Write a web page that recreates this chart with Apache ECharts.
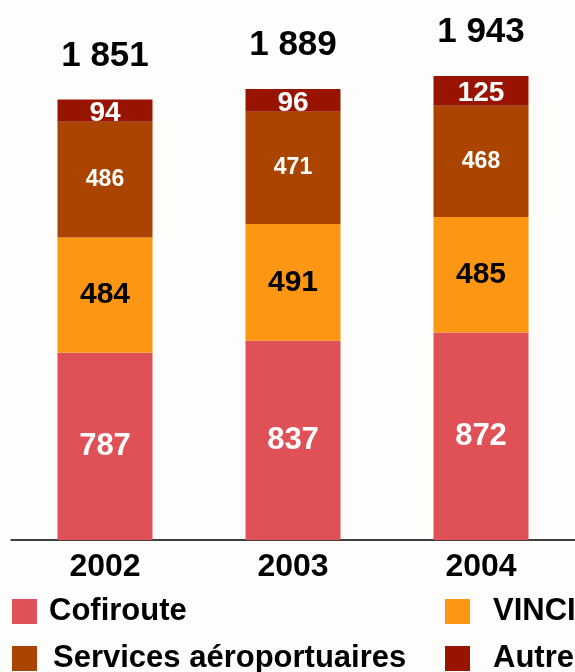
<!DOCTYPE html>
<html>
<head>
<meta charset="utf-8">
<script src="https://cdn.jsdelivr.net/npm/echarts@6/dist/echarts.min.js"></script>
<style>
  html, body { margin: 0; padding: 0; background: #fdfdfb; }
  #chart { width: 575px; height: 672px; }
</style>
</head>
<body>
<div id="chart"></div>
<script>
    // values
    var years = ['2002', '2003', '2004'];
    var cofiroute = [787, 837, 872];
    var vinci = [484, 491, 485];
    var services = [486, 471, 468];
    var autre = [94, 96, 125];
    var totals = ['1 851', '1 889', '1 943'];

    var font = '"Liberation Sans", Arial, sans-serif';

    function segment(name, values, color, labelColor, size, dy){
        return {
            name: name,
            type: 'bar',
            stack: 'ca',
            barWidth: 95,
            data: values,
            itemStyle: {color: color},
            label: {
                show: true,
                position: 'inside',
                offset: [0, dy || 0],
                color: labelColor,
                fontFamily: font,
                fontWeight: 'bold',
                fontSize: size
            }
        };
    }

    // one legend box per entry, laid out 2 x 2 like the original
    function legendItem(name, left, top, gap){
        return {
            data: [name],
            left: left, top: top,
            padding: 0,
            itemWidth: 25, itemHeight: 25,
            icon: 'rect',
            textStyle: {color: '#000', fontFamily: font, fontWeight: 'bold', fontSize: 31, padding: [0, 0, 0, gap]}
        };
    }

    var chart = echarts.init(document.getElementById('chart'));
    chart.setOption({
        animation: false,
        backgroundColor: '#fdfdfb',
        grid: {left: 11, width: 567, top: 64, bottom: 132},
        xAxis: {
            type: 'category',
            data: years,
            axisLine: {lineStyle: {color: '#000', width: 1.5}},
            axisTick: {show: false},
            axisLabel: {
                color: '#000',
                fontFamily: font,
                fontWeight: 'bold',
                fontSize: 32,
                margin: 11
            }
        },
        yAxis: {type: 'value', min: 0, max: 2000, show: false},
        legend: [
            legendItem('Cofiroute', 12, 596, 7),
            legendItem('Services aéroportuaires', 12, 643, 11),
            legendItem('VINCI', 445, 596, 18),
            legendItem('Autre', 445, 643, 18)
        ],
        series: [
            segment('Cofiroute', cofiroute, '#e05057', '#fff', 31),
            segment('VINCI', vinci, '#fd9713', '#000', 30),
            segment('Services aéroportuaires', services, '#aa4400', '#fff', 23),
            segment('Autre', autre, '#991400', '#fff', 28, 3),
            {
                name: 'total',
                type: 'bar',
                stack: 'ca',
                barWidth: 95,
                data: [0, 0, 0],
                itemStyle: {color: 'transparent'},
                label: {
                    show: true,
                    position: 'top',
                    distance: 26,
                    color: '#000',
                    fontFamily: font,
                    fontWeight: 'bold',
                    fontSize: 35,
                    formatter: function(p){ return totals[p.dataIndex]; }
                }
            }
        ]
    });
</script>
</body>
</html>
